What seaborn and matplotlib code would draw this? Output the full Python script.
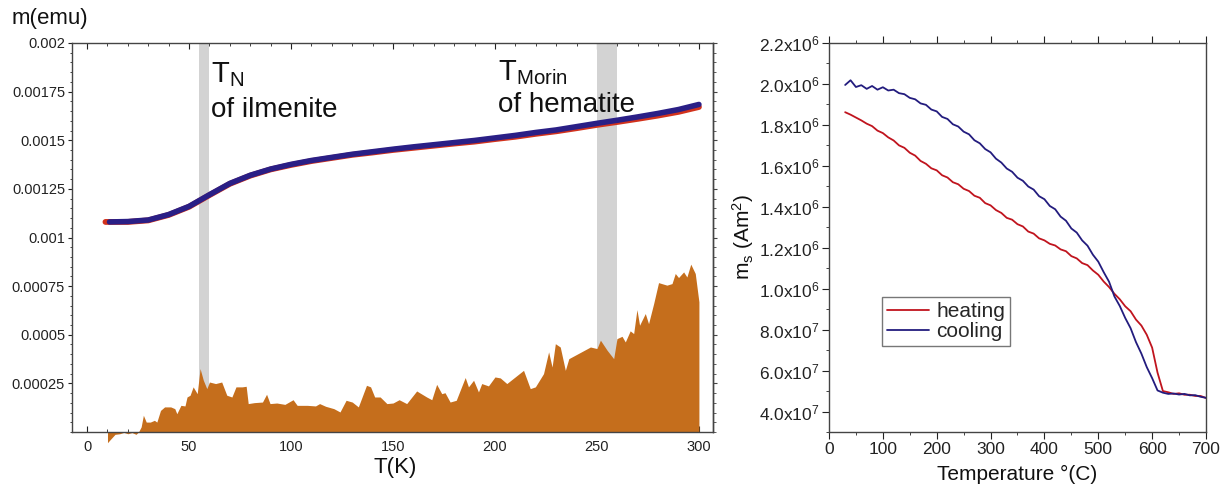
import matplotlib
matplotlib.use("Agg")
import matplotlib.pyplot as plt
import numpy as np
import pandas as pd
import seaborn as sns
from matplotlib.ticker import MultipleLocator, FixedLocator

# ---------------- left panel: low-temperature moment m(T) ----------------
temp_K = [20, 30, 40, 50, 60, 70, 80, 90, 100, 110, 120, 130, 140, 150,
          160, 170, 180, 190, 200, 210, 220, 230, 240, 250, 260, 270, 280,
          290, 300]
start_K_red = 9
start_K_blue = 11
m_blue_e3 = [1.082, 1.090, 1.118, 1.160, 1.220, 1.278, 1.320, 1.352, 1.376,
             1.396, 1.412, 1.428, 1.441, 1.454, 1.466, 1.477, 1.488, 1.499,
             1.512, 1.525, 1.540, 1.553, 1.570, 1.587, 1.603, 1.620, 1.638,
             1.658, 1.684]
m_red_e3 = [1.080, 1.088, 1.116, 1.158, 1.218, 1.276, 1.318, 1.350, 1.373,
            1.393, 1.409, 1.425, 1.437, 1.450, 1.461, 1.472, 1.483, 1.493,
            1.506, 1.518, 1.533, 1.546, 1.562, 1.579, 1.594, 1.610, 1.627,
            1.646, 1.671]
m_start_e3 = 1.080

# difference signal shown as the orange area (units of 1e-4 emu)
diff_T_K = [10, 11, 13.7, 16, 18, 20, 22, 24, 25.2, 26.5, 27.6, 29, 31, 33,
            34.2, 36, 38, 41, 43, 44, 46, 48, 49, 50.5, 52, 54, 55.4, 57,
            58.7, 60, 63, 66, 68.5, 71, 73, 76, 78, 79, 82, 86, 88, 89.7, 93,
            97, 101, 103, 108, 112, 114, 117, 121, 124, 127, 130, 133, 137,
            139, 141, 143.7, 147, 150, 153, 156.7, 161.6, 166.5, 169, 171.4,
            173.9, 175.5, 178, 181, 185.4, 187, 189.5, 191.9, 193.5, 196.8,
            200, 202.6, 205.8, 209.9, 214, 217.3, 219.8, 223.8, 226.3, 228,
            229.6, 232, 234.5, 236.2, 246.8, 250, 251.7, 255, 258.2, 259.8,
            262.3, 263.9, 266.3, 268, 269.6, 270.9, 273.7, 275.3, 277.8,
            280.2, 284.3, 286.8, 288.4, 290, 292.5, 294.1, 296, 298.2, 300]
diff_m_e4 = [-0.55, -0.43, -0.12, -0.09, -0.02, -0.09, -0.03, -0.12, 0.0,
             0.26, 0.86, 0.51, 0.51, 0.60, 0.51, 1.11, 1.29, 1.29, 1.20, 0.94,
             1.37, 1.34, 1.80, 1.89, 2.32, 1.97, 3.26, 2.66, 2.23, 2.57, 2.49,
             2.57, 1.89, 1.80, 2.32, 2.32, 2.35, 1.46, 1.51, 1.54, 1.94, 1.46,
             1.49, 1.42, 1.66, 1.37, 1.37, 1.34, 1.46, 1.32, 1.20, 1.03, 1.63,
             1.54, 1.29, 2.40, 2.32, 1.80, 1.80, 1.46, 1.49, 1.66, 1.46, 2.11,
             1.80, 1.66, 2.45, 1.97, 2.02, 1.54, 1.63, 2.80, 2.32, 2.66, 2.06,
             2.49, 2.37, 2.83, 2.78, 2.49, 2.83, 3.17, 2.23, 2.32, 3.00, 4.12,
             3.34, 4.54, 4.37, 3.17, 3.77, 4.37, 4.29, 4.72, 4.20, 3.77, 4.80,
             4.92, 4.63, 5.20, 5.06, 6.29, 5.49, 6.09, 5.57, 6.60, 7.68, 7.55,
             7.63, 8.15, 7.94, 8.23, 7.97, 8.63, 8.15, 6.69]

bands_K = [(55, 60), (250, 260)]
left_yticks = [0.00025, 0.0005, 0.00075, 0.001, 0.00125, 0.0015, 0.00175, 0.002]
left_yticklabels = ["0.00025", "0.0005", "0.00075", "0.001", "0.00125",
                    "0.0015", "0.00175", "0.002"]

# ---------------- right panel: saturation moment vs temperature ----------------
temp_C = list(range(30, 701, 10))
ms_heating = [1.862, 1.850, 1.836, 1.822, 1.806, 1.794, 1.772, 1.760, 1.739,
              1.724, 1.700, 1.688, 1.664, 1.650, 1.624, 1.610, 1.588, 1.578,
              1.554, 1.543, 1.520, 1.510, 1.488, 1.477, 1.454, 1.444, 1.418,
              1.407, 1.384, 1.370, 1.346, 1.337, 1.315, 1.304, 1.279, 1.269,
              1.246, 1.236, 1.219, 1.211, 1.192, 1.183, 1.159, 1.148, 1.125,
              1.115, 1.089, 1.068, 1.035, 1.008, 0.975, 0.948, 0.914, 0.890,
              0.849, 0.820, 0.775, 0.712, 0.590, 0.500, 0.494, 0.486, 0.489,
              0.482, 0.482, 0.476, 0.476, 0.466]
ms_cooling = [1.995, 2.018, 1.985, 1.994, 1.976, 1.990, 1.972, 1.984, 1.968,
              1.972, 1.955, 1.950, 1.932, 1.925, 1.905, 1.898, 1.875, 1.866,
              1.839, 1.829, 1.803, 1.792, 1.767, 1.754, 1.725, 1.710, 1.682,
              1.666, 1.635, 1.616, 1.587, 1.571, 1.542, 1.527, 1.499, 1.484,
              1.452, 1.437, 1.404, 1.388, 1.352, 1.332, 1.294, 1.274, 1.236,
              1.210, 1.166, 1.132, 1.081, 1.034, 0.962, 0.915, 0.857, 0.807,
              0.739, 0.683, 0.617, 0.563, 0.503, 0.492, 0.486, 0.488, 0.483,
              0.486, 0.479, 0.480, 0.472, 0.467]
right_yticks = [0.4, 0.6, 0.8, 1.0, 1.2, 1.4, 1.6, 1.8, 2.0, 2.2]
right_yticklabels = [r"$4.0x10^{7}$", r"$6.0x10^{7}$", r"$8.0x10^{7}$",
                     r"$1.0x10^{6}$", r"$1.2x10^{6}$", r"$1.4x10^{6}$",
                     r"$1.6x10^{6}$", r"$1.8x10^{6}$", r"$2.0x10^{6}$",
                     r"$2.2x10^{6}$"]

# ---------------- styling ----------------
sns.set_style("ticks")
plt.rcParams["font.family"] = ["Liberation Sans", "DejaVu Sans"]
plt.rcParams["mathtext.default"] = "regular"
plt.rcParams["axes.linewidth"] = 1.0

RED_L = "#d2321c"
BLUE_L = "#2a1f86"
ORANGE = "#c56e1c"
GRAY = "#d3d3d3"
RED_R = "#c0141e"
BLUE_R = "#231c7e"
INK = "#222222"

fig = plt.figure(figsize=(12.27, 4.93), dpi=100)
axL = fig.add_axes([0.05868, 0.12373, 0.52241, 0.78905])
axR = fig.add_axes([0.67563, 0.12373, 0.30725, 0.78905])

# ---- left panel ----
for lo, hi in bands_K:
    axL.axvspan(lo, hi, color=GRAY, lw=0, zorder=1)

axL.fill_between(diff_T_K, np.array(diff_m_e4) * 1e-4, 0, color=ORANGE,
                 lw=0, zorder=2, clip_on=False)

df_red = pd.DataFrame({"T": [start_K_red] + temp_K,
                       "m": np.array([m_start_e3] + m_red_e3) * 1e-3})
df_blue = pd.DataFrame({"T": [start_K_blue] + temp_K,
                        "m": np.array([m_start_e3] + m_blue_e3) * 1e-3})
sns.lineplot(data=df_red, x="T", y="m", ax=axL, color=RED_L, lw=4.2,
             solid_capstyle="round", zorder=3, sort=False)
sns.lineplot(data=df_blue, x="T", y="m", ax=axL, color=BLUE_L, lw=4.0,
             solid_capstyle="round", zorder=4, sort=False)

axL.set_xlim(-7.4, 306.9)
axL.set_ylim(0, 0.002)
axL.set_xlabel("")
axL.set_ylabel("")
axL.xaxis.set_major_locator(MultipleLocator(50))
axL.xaxis.set_minor_locator(MultipleLocator(10))
axL.yaxis.set_major_locator(FixedLocator(left_yticks))
axL.set_yticklabels(left_yticklabels)
axL.yaxis.set_minor_locator(MultipleLocator(0.00005))
axL.tick_params(axis="x", which="both", direction="in", top=True,
                labelsize=10.5, colors=INK, pad=6)
axL.tick_params(axis="x", which="major", length=4)
axL.tick_params(axis="x", which="minor", length=2.5)
axL.tick_params(axis="y", which="both", direction="out", left=True,
                labelsize=10.5, colors=INK, pad=2)
axL.tick_params(axis="y", which="major", length=3)
axL.tick_params(axis="y", which="minor", length=1.8)
for sp in axL.spines.values():
    sp.set_visible(True)
    sp.set_color("#444444")

secL = axL.secondary_yaxis("right")
secL.yaxis.set_major_locator(FixedLocator(left_yticks))
secL.yaxis.set_minor_locator(MultipleLocator(0.00005))
secL.tick_params(axis="y", which="both", direction="out", labelright=False,
                 colors="#444444")
secL.tick_params(axis="y", which="major", length=3)
secL.tick_params(axis="y", which="minor", length=1.8)
secL.spines["right"].set_color("#444444")

axL.text(60.6, 0.00180, r"T$_{N}$", fontsize=21, color="#111111", zorder=5)
axL.text(60.6, 0.00162, "of ilmenite", fontsize=20, color="#111111", zorder=5)
axL.text(201.5, 0.00181, r"T$_{Morin}$", fontsize=21, color="#111111", zorder=5)
axL.text(201.5, 0.001645, "of hematite", fontsize=20, color="#111111", zorder=5)

fig.text(12 / 1227, 1 - 24 / 493, "m(emu)", fontsize=16, color="#111111",
         ha="left", va="baseline")
fig.text(395 / 1227, 1 - 473 / 493, "T(K)", fontsize=16, color="#111111",
         ha="center", va="baseline")

# ---- right panel ----
df_ms = pd.DataFrame({
    "T": temp_C + temp_C,
    "ms": ms_heating + ms_cooling,
    "run": ["heating"] * len(temp_C) + ["cooling"] * len(temp_C),
})
sns.lineplot(data=df_ms, x="T", y="ms", hue="run", ax=axR,
             palette={"heating": RED_R, "cooling": BLUE_R}, lw=1.3, zorder=3)

axR.set_xlim(0, 700)
axR.set_ylim(0.3, 2.2)
axR.xaxis.set_major_locator(MultipleLocator(100))
axR.xaxis.set_minor_locator(MultipleLocator(50))
axR.yaxis.set_major_locator(FixedLocator(right_yticks))
axR.set_yticklabels(right_yticklabels)
axR.yaxis.set_minor_locator(MultipleLocator(0.1))
axR.tick_params(axis="both", which="both", direction="out", colors=INK,
                labelsize=12.5)
axR.tick_params(axis="x", which="both", top=True, pad=2)
axR.tick_params(axis="y", which="both", left=True, right=False, pad=2)
axR.tick_params(which="major", length=5)
axR.tick_params(which="minor", length=2.5)
for sp in axR.spines.values():
    sp.set_visible(True)
    sp.set_color("#444444")
axR.set_xlabel("Temperature °(C)", fontsize=15, color="#111111", labelpad=6)
axR.set_ylabel(r"m$_{s}$ (Am$^{2}$)", fontsize=15, color="#111111", labelpad=2)

leg = axR.legend(loc="upper left", bbox_to_anchor=(0.1406, 0.347),
                 borderaxespad=0, frameon=True, fancybox=False, fontsize=15,
                 handlelength=2.0, handletextpad=0.35, labelspacing=0.05,
                 borderpad=0.25, title=None)
leg.get_frame().set_edgecolor("#555555")
leg.get_frame().set_linewidth(1.0)
for h in leg.get_lines():
    h.set_linewidth(1.3)

fig.savefig("out.png", dpi=100)
